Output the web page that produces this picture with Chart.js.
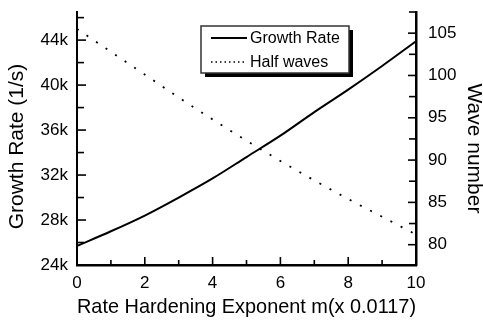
<!DOCTYPE html>
<html>
<head>
<meta charset="utf-8">
<script src="https://cdn.jsdelivr.net/npm/chart.js@4/dist/chart.umd.min.js"></script>
<style>
  html, body { margin: 0; padding: 0; background: #fff; }
  canvas { display: block; }
</style>
</head>
<body>
<canvas id="grafica" width="483" height="320"></canvas>
<script>
// datos
var m = [0, 1, 2, 3, 4, 5, 6, 7, 8, 9, 10];
var growthRate = [25700, 27000, 28400, 30000, 31700, 33600, 35500, 37600, 39600, 41700, 43900];
var halfWaves = [105.5, 102.8, 100.1, 97.4, 94.8, 92.3, 89.9, 87.6, 85.4, 83.3, 81.2];

// ticks (los que llevan etiqueta y los menores)
var xTicks = [0, 1, 2, 3, 4, 5, 6, 7, 8, 9, 10];
var xLabeled = [0, 2, 4, 6, 8, 10];
var leftTicks = [24000, 26000, 28000, 30000, 32000, 34000, 36000, 38000, 40000, 42000, 44000, 46000];
var leftLabeled = [24000, 28000, 32000, 36000, 40000, 44000];
var rightTicks = [80, 82.5, 85, 87.5, 90, 92.5, 95, 97.5, 100, 102.5, 105, 107.5];
var rightLabeled = [80, 85, 90, 95, 100, 105];

var FONT = "'Liberation Sans', Arial, Helvetica, sans-serif";

function toPoints(ys) {
  return m.map(function (x, i) { return { x: x, y: ys[i] }; });
}

function setTicks(values) {
  return function (scale) {
    scale.ticks = values.map(function (v) { return { value: v }; });
  };
}

// tamaño fijo de cada eje, sin relleno extra por las etiquetas
function fixSize(w, h) {
  return function (s) {
    if (w !== null) s.width = w;
    if (h !== null) s.height = h;
    s.paddingTop = 0; s.paddingBottom = 0;
    s.paddingLeft = 0; s.paddingRight = 0;
  };
}

// marcas de los ticks hacia dentro del grafico
const innerTicks = {
  id: 'innerTicks',
  afterDraw(chart) {
    const c = chart.ctx;
    const a = chart.chartArea;
    c.save();
    c.strokeStyle = '#000';
    c.lineWidth = 1.6;
    const sx = chart.scales.x, sl = chart.scales.y, sr = chart.scales.y1;
    xTicks.forEach(function (v) {
      const px = sx.getPixelForValue(v);
      const len = xLabeled.indexOf(v) >= 0 ? 8 : 5;
      c.beginPath(); c.moveTo(px, a.bottom); c.lineTo(px, a.bottom - len); c.stroke();
    });
    leftTicks.forEach(function (v) {
      const py = sl.getPixelForValue(v);
      const len = leftLabeled.indexOf(v) >= 0 ? 9 : 7;
      c.beginPath(); c.moveTo(a.left, py); c.lineTo(a.left + len, py); c.stroke();
    });
    rightTicks.forEach(function (v) {
      const py = sr.getPixelForValue(v);
      const len = rightLabeled.indexOf(v) >= 0 ? 8 : 7;
      c.beginPath(); c.moveTo(a.right, py); c.lineTo(a.right - len, py); c.stroke();
    });
    c.restore();
  }
};

// titulos verticales (un poco mas abajo que el centro del eje)
const sideTitles = {
  id: 'sideTitles',
  afterDraw(chart) {
    const c = chart.ctx;
    const a = chart.chartArea;
    const mid = (a.top + a.bottom) / 2;
    c.save();
    c.fillStyle = '#000';
    c.font = '21px ' + FONT;
    c.textAlign = 'center';
    c.textBaseline = 'middle';
    c.save();
    c.translate(17, mid + 8);
    c.rotate(-Math.PI / 2);
    c.fillText(chart.options.scales.y.title.text, 0, 0);
    c.restore();
    c.save();
    c.translate(474, mid + 10);
    c.rotate(Math.PI / 2);
    c.fillText(chart.options.scales.y1.title.text, 0, 0);
    c.restore();
    c.restore();
  }
};

// leyenda con sombra
const boxLegend = {
  id: 'boxLegend',
  afterDraw(chart) {
    const c = chart.ctx;
    const a = chart.chartArea;
    const x = a.left + 124, y = a.top + 14, w = 148, h = 47;
    c.save();
    c.fillStyle = '#000';
    c.fillRect(x + 4, y + 4, w, h);
    c.fillStyle = '#fff';
    c.fillRect(x, y, w, h);
    c.strokeStyle = '#333';
    c.lineWidth = 1.5;
    c.strokeRect(x, y, w, h);
    c.font = '16px ' + FONT;
    c.textBaseline = 'middle';
    chart.data.datasets.forEach(function (ds, i) {
      const ly = y + 12 + i * 24;
      c.strokeStyle = '#000';
      c.lineWidth = ds.borderDash ? 1.5 : ds.borderWidth;
      c.setLineDash(ds.borderDash ? [1.5, 3] : []);
      c.beginPath(); c.moveTo(x + 10, ly); c.lineTo(x + 46, ly); c.stroke();
      c.setLineDash([]);
      c.fillStyle = '#000';
      c.fillText(ds.label, x + 49, ly + 1);
    });
    c.restore();
  }
};

const ctx = document.getElementById('grafica').getContext('2d');
new Chart(ctx, {
  type: 'line',
  data: {
    datasets: [
      {
        label: 'Growth Rate',
        data: toPoints(growthRate),
        yAxisID: 'y',
        borderColor: '#000',
        borderWidth: 2,
        pointRadius: 0,
        cubicInterpolationMode: 'monotone',
        fill: false
      },
      {
        label: 'Half waves',
        data: toPoints(halfWaves),
        yAxisID: 'y1',
        borderColor: '#000',
        borderWidth: 1.8,
        borderDash: [2, 9.5],
        pointRadius: 0,
        cubicInterpolationMode: 'monotone',
        fill: false
      }
    ]
  },
  options: {
    responsive: false,
    animation: false,
    layout: { padding: { top: 12, left: 0, right: 0, bottom: 0 } },
    plugins: { legend: { display: false }, tooltip: { enabled: false } },
    scales: {
      x: {
        type: 'linear', bounds: 'data',
        min: 0, max: 10,
        grid: { display: false, drawTicks: false },
        border: { display: true, color: '#000', width: 2.5 },
        ticks: {
          autoSkip: false, maxTicksLimit: 100, maxRotation: 0, padding: 8,
          color: '#000', font: { family: FONT, size: 17 },
          callback: function (v) { return xLabeled.indexOf(v) >= 0 ? String(v) : ''; }
        },
        title: {
          display: true, text: 'Rate Hardening Exponent m(x 0.0117)',
          color: '#000', font: { family: FONT, size: 21 }, padding: { top: 0, bottom: 0 }
        },
        afterBuildTicks: setTicks(xTicks),
        afterFit: fixSize(null, 55)
      },
      y: {
        type: 'linear', position: 'left', bounds: 'data',
        min: 24000, max: 46500,
        grid: { display: false, drawTicks: false },
        border: { display: true, color: '#000', width: 2 },
        ticks: {
          autoSkip: false, maxTicksLimit: 100, padding: 9,
          color: '#000', font: { family: FONT, size: 17 },
          callback: function (v) { return leftLabeled.indexOf(v) >= 0 ? (v / 1000) + 'k' : ''; }
        },
        title: { display: false, text: 'Growth Rate (1/s)' },
        afterBuildTicks: setTicks(leftTicks),
        afterFit: fixSize(77, null)
      },
      y1: {
        type: 'linear', position: 'right', bounds: 'data',
        min: 77.6, max: 107.5,
        grid: { display: false, drawTicks: false },
        border: { display: true, color: '#000', width: 2.5 },
        ticks: {
          autoSkip: false, maxTicksLimit: 100, padding: 12,
          color: '#000', font: { family: FONT, size: 17 },
          callback: function (v) { return rightLabeled.indexOf(v) >= 0 ? String(v) : ''; }
        },
        title: { display: false, text: 'Wave number' },
        afterBuildTicks: setTicks(rightTicks),
        afterFit: fixSize(67, null)
      }
    }
  },
  plugins: [innerTicks, sideTitles, boxLegend]
});
</script>
</body>
</html>
